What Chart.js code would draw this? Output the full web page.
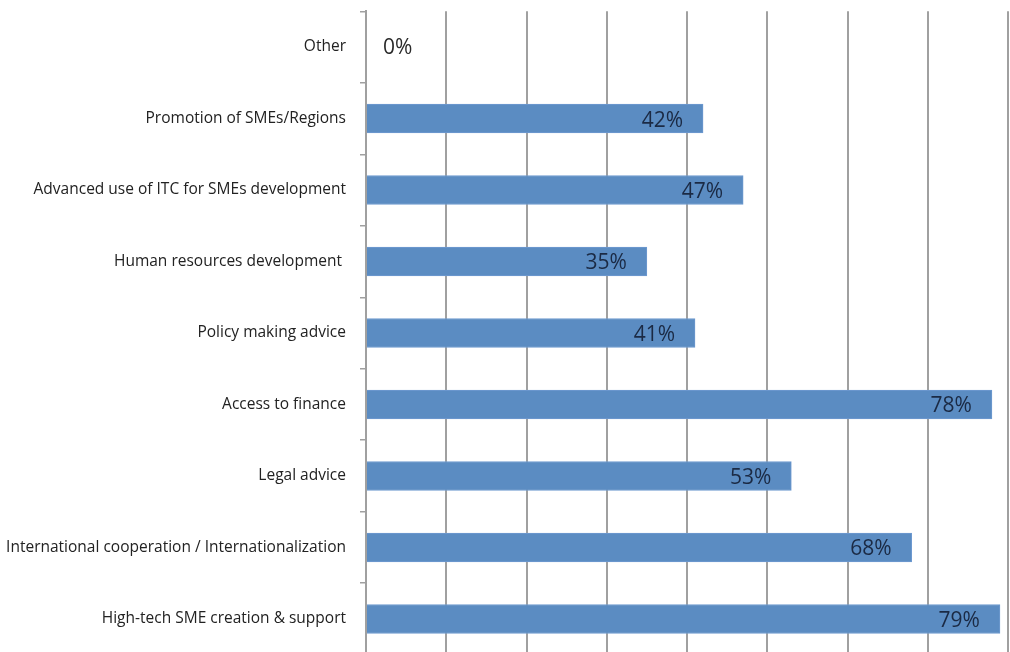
<!DOCTYPE html>
<html>
<head>
<meta charset="utf-8">
<script src="https://cdn.jsdelivr.net/npm/chart.js@4/dist/chart.umd.min.js"></script>
<style>
  html, body { margin: 0; padding: 0; background: #ffffff; overflow: hidden; }
  #wrap { position: relative; width: 1010px; height: 690px; margin-top: -12px; }
</style>
</head>
<body>
<div id="wrap"><canvas id="chart"></canvas></div>
<script>
// Service areas, listed top to bottom
const categories = [
  'Other',
  'Promotion of SMEs/Regions',
  'Advanced use of ITC for SMEs development',
  'Human resources development ',
  'Policy making advice',
  'Access to finance',
  'Legal advice',
  'International cooperation / Internationalization',
  'High-tech SME creation & support'
];
// Share of respondents (%)
const shares = [0, 42, 47, 35, 41, 78, 53, 68, 79];
const axisMax = 80;
const axisStep = 10;

// Writes each value at the end of its bar (or just right of the axis when zero)
const valueLabels = {
  id: 'valueLabels',
  afterDatasetsDraw(chart) {
    const ctx = chart.ctx;
    const meta = chart.getDatasetMeta(0);
    const values = chart.data.datasets[0].data;
    ctx.save();
    ctx.font = '21px "Open Sans", sans-serif';
    ctx.textBaseline = 'middle';
    meta.data.forEach((bar, i) => {
      const v = values[i];
      const text = v + '%';
      if (v === 0) {
        ctx.fillStyle = '#2a2a2a';
        ctx.textAlign = 'left';
        ctx.fillText(text, bar.base + 17, bar.y + 1);
      } else {
        ctx.fillStyle = '#1b2a44';
        ctx.textAlign = 'right';
        ctx.fillText(text, bar.x - 20, bar.y + 2);
      }
    });
    ctx.restore();
  }
};

new Chart(document.getElementById('chart'), {
  type: 'bar',
  data: {
    labels: categories,
    datasets: [{
      data: shares,
      backgroundColor: '#5b8cc2',
      borderColor: '#6f9ad0',
      borderWidth: 1,
      borderSkipped: 'start',
      barThickness: 29
    }]
  },
  options: {
    indexAxis: 'y',
    responsive: true,
    maintainAspectRatio: false,
    animation: false,
    layout: { padding: { top: 0, right: 2, left: 0, bottom: 0 } },
    plugins: {
      legend: { display: false },
      tooltip: { enabled: false }
    },
    scales: {
      x: {
        min: 0,
        max: axisMax,
        ticks: { display: false, stepSize: axisStep },
        grid: { color: '#a0a0a0', lineWidth: 2, drawTicks: false },
        border: { display: false }
      },
      y: {
        offset: true,
        afterFit(scale) { scale.width = 366; },
        ticks: {
          color: '#222222',
          padding: 14,
          font: { family: '"Open Sans", sans-serif', size: 15.5 }
        },
        grid: {
          offset: true,
          drawOnChartArea: false,
          tickLength: 6,
          tickColor: '#a0a0a0',
          lineWidth: 1.5
        },
        border: { display: true, color: '#a0a0a0', width: 2 }
      }
    }
  },
  plugins: [valueLabels]
});
</script>
</body>
</html>
